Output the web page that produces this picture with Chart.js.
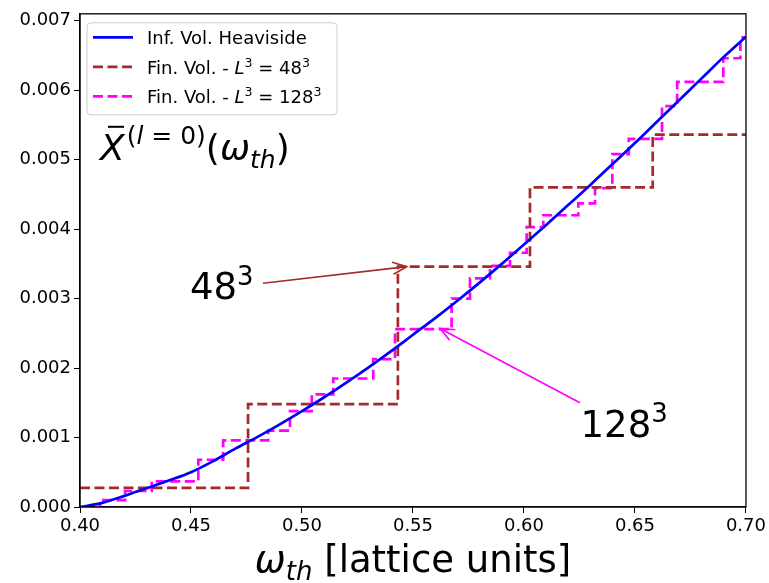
<!DOCTYPE html>
<html>
<head>
<meta charset="utf-8">
<script src="https://cdn.jsdelivr.net/npm/chart.js@4.4.1/dist/chart.umd.min.js"></script>
<style>
html, body { margin: 0; padding: 0; background: #fff; }
canvas { display: block; }
</style>
</head>
<body>
<canvas id="chart" width="769" height="583"></canvas>
<script>
// infinite volume (Heaviside) curve
var omegaInf = [0.40, 0.41, 0.42, 0.43, 0.44, 0.45, 0.46, 0.47, 0.48, 0.49,
                0.50, 0.51, 0.52, 0.53, 0.54, 0.55, 0.56, 0.57, 0.58, 0.59,
                0.60, 0.61, 0.62, 0.63, 0.64, 0.65, 0.66, 0.67, 0.68, 0.69, 0.70];
var xbarInf = [0.00000, 0.00006, 0.00016, 0.00027, 0.00038, 0.00050, 0.00066, 0.00084, 0.00101, 0.00119,
               0.00138, 0.00158, 0.00179, 0.00201, 0.00224, 0.00248, 0.00272, 0.00297, 0.00323, 0.00350,
               0.00378, 0.00406, 0.00435, 0.00464, 0.00494, 0.00524, 0.00555, 0.00586, 0.00617, 0.00648, 0.00677];

// finite volume, L^3 = 48^3 (value holds until the next omega)
var omega48 = [0.400, 0.4757, 0.5432, 0.6027, 0.6580, 0.700];
var xbar48  = [0.000275, 0.00148, 0.00346, 0.00460, 0.00536, 0.00536];

// finite volume, L^3 = 128^3
var omega128 = [0.400, 0.4090, 0.4203, 0.4323, 0.4533, 0.4645, 0.4848, 0.4946, 0.5044, 0.5141,
                0.5321, 0.5419, 0.5674, 0.5757, 0.5847, 0.5937, 0.6012, 0.6087, 0.6245, 0.6320,
                0.6398, 0.6472, 0.6622, 0.6690, 0.6898, 0.6975, 0.700];
var xbar128  = [0.00000, 0.00010, 0.00023, 0.00037, 0.00068, 0.00096, 0.00110, 0.00138, 0.00162, 0.00185,
                0.00213, 0.00256, 0.00300, 0.00329, 0.00347, 0.00366, 0.00403, 0.00420, 0.00437, 0.00459,
                0.00508, 0.00530, 0.00577, 0.00612, 0.00646, 0.00676, 0.00676];

var xTicks = [0.40, 0.45, 0.50, 0.55, 0.60, 0.65, 0.70];
var yTicks = [0.000, 0.001, 0.002, 0.003, 0.004, 0.005, 0.006, 0.007];

var FONT = '"DejaVu Sans", sans-serif';
var BROWN = '#a52a2a';
var MAGENTA = '#ff00ff';

function pts(xs, ys) {
	return xs.map(function(x, i) { return {x: x, y: ys[i]}; });
}

// draws a run of text pieces (for super/subscripts), returns the end x
function richText(ctx, x, y, parts, measureOnly) {
	var cx = x;
	ctx.save();
	ctx.fillStyle = '#000';
	ctx.textAlign = 'left';
	ctx.textBaseline = 'alphabetic';
	parts.forEach(function(p) {
		ctx.font = (p.italic ? 'italic ' : '') + p.size + 'px ' + FONT;
		if (!measureOnly) ctx.fillText(p.t, cx, y - (p.rise || 0));
		cx += ctx.measureText(p.t).width;
	});
	ctx.restore();
	return cx;
}

function arrow(ctx, x0, y0, x1, y1, color) {
	var a = Math.atan2(y1 - y0, x1 - x0);
	var hl = 14, hw = 6;
	ctx.save();
	ctx.strokeStyle = color;
	ctx.lineWidth = 1.6;
	ctx.beginPath();
	ctx.moveTo(x0, y0);
	ctx.lineTo(x1, y1);
	ctx.moveTo(x1 - hl * Math.cos(a) + hw * Math.sin(a), y1 - hl * Math.sin(a) - hw * Math.cos(a));
	ctx.lineTo(x1, y1);
	ctx.lineTo(x1 - hl * Math.cos(a) - hw * Math.sin(a), y1 - hl * Math.sin(a) + hw * Math.cos(a));
	ctx.stroke();
	ctx.restore();
}

function sup(base, size) {
	return [{t: base, size: size}, {t: '3', size: size * 0.7, rise: size * 0.4}];
}

// text labels with arrows, anchored in data units
var notes = [
	{parts: sup('48', 37), at: [0.4495, 0.00299], from: [0.4824, 0.00322], to: [0.5472, 0.00346], color: BROWN},
	{parts: sup('128', 37), at: [0.6255, 0.00101], from: [0.6252, 0.00150], to: [0.5622, 0.00257], color: MAGENTA}
];

var legendItems = [
	{color: '#0000ff', dash: [], parts: [{t: 'Inf. Vol. Heaviside', size: 18}]},
	{color: BROWN, dash: [10, 4.5], parts: [{t: 'Fin. Vol. - ', size: 18}, {t: 'L', size: 18, italic: true},
		{t: '3', size: 12.6, rise: 7}, {t: ' = 48', size: 18}, {t: '3', size: 12.6, rise: 7}]},
	{color: MAGENTA, dash: [10, 4.5], parts: [{t: 'Fin. Vol. - ', size: 18}, {t: 'L', size: 18, italic: true},
		{t: '3', size: 12.6, rise: 7}, {t: ' = 128', size: 18}, {t: '3', size: 12.6, rise: 7}]}
];

var decorations = {
	id: 'decorations',
	afterDraw: function(chart) {
		var ctx = chart.ctx, area = chart.chartArea;
		var xs = chart.scales.x, ys = chart.scales.y;

		// frame
		ctx.save();
		ctx.strokeStyle = '#000';
		ctx.lineWidth = 1.3;
		ctx.strokeRect(area.left, area.top, area.right - area.left, area.bottom - area.top);
		ctx.restore();

		// legend box
		var lx = area.left + 7, ly = area.top + 9, lw = 250, lh = 92;
		ctx.save();
		ctx.fillStyle = 'rgba(255,255,255,0.8)';
		ctx.strokeStyle = '#cccccc';
		ctx.lineWidth = 1;
		ctx.beginPath();
		ctx.roundRect(lx, ly, lw, lh, 4);
		ctx.fill();
		ctx.stroke();
		legendItems.forEach(function(item, i) {
			var yy = ly + 14.5 + i * 29.5;
			ctx.strokeStyle = item.color;
			ctx.lineWidth = 2.7;
			ctx.setLineDash(item.dash);
			ctx.beginPath();
			ctx.moveTo(lx + 6, yy);
			ctx.lineTo(lx + 46, yy);
			ctx.stroke();
			ctx.setLineDash([]);
			richText(ctx, lx + 60, yy + 7, item.parts);
		});
		ctx.restore();

		// X-bar label
		var bx = area.left + 20, by = area.top + 146;
		var xEnd = richText(ctx, bx, by, [{t: 'X', size: 36, italic: true}]);
		ctx.save();
		ctx.strokeStyle = '#000';
		ctx.lineWidth = 2;
		ctx.beginPath();
		ctx.moveTo(bx + 8, by - 33);
		ctx.lineTo(bx + 24, by - 33);
		ctx.stroke();
		ctx.restore();
		richText(ctx, xEnd + 2, by, [
			{t: '(', size: 25, rise: 16}, {t: 'l', size: 25, italic: true, rise: 16}, {t: ' = 0)', size: 25, rise: 16},
			{t: '(', size: 36}, {t: 'ω', size: 36, italic: true}, {t: 'th', size: 25, italic: true, rise: -8},
			{t: ')', size: 36}
		]);

		// annotations
		notes.forEach(function(n) {
			arrow(ctx, xs.getPixelForValue(n.from[0]), ys.getPixelForValue(n.from[1]),
				xs.getPixelForValue(n.to[0]), ys.getPixelForValue(n.to[1]), n.color);
			richText(ctx, xs.getPixelForValue(n.at[0]), ys.getPixelForValue(n.at[1]), n.parts);
		});

		// x axis title
		var title = [{t: 'ω', size: 37, italic: true}, {t: 'th', size: 26, italic: true, rise: -8},
			{t: ' [lattice units]', size: 37}];
		var w = richText(ctx, 0, 0, title, true);
		richText(ctx, (area.left + area.right) / 2 - w / 2, 572, title);
	}
};

new Chart('chart', {
	type: 'line',
	data: {
		datasets: [
		{
			label: 'Inf. Vol. Heaviside',
			data: pts(omegaInf, xbarInf),
			borderColor: '#0000ff',
			borderWidth: 2.7,
			pointRadius: 0,
			cubicInterpolationMode: 'monotone',
			fill: false
		},
		{
			label: 'Fin. Vol. - L^3 = 48^3',
			data: pts(omega48, xbar48),
			borderColor: BROWN,
			borderWidth: 2.7,
			borderDash: [10, 4.5],
			stepped: 'before',
			pointRadius: 0,
			fill: false
		},
		{
			label: 'Fin. Vol. - L^3 = 128^3',
			data: pts(omega128, xbar128),
			borderColor: MAGENTA,
			borderWidth: 2.7,
			borderDash: [10, 4.5],
			stepped: 'before',
			pointRadius: 0,
			fill: false
		}]
	},
	options: {
		responsive: false,
		animation: false,
		devicePixelRatio: 1,
		layout: {padding: {top: 9, right: 23, left: 0, bottom: 0}},
		plugins: {legend: {display: false}, tooltip: {enabled: false}},
		scales: {
			x: {
				type: 'linear',
				min: 0.40,
				max: 0.70,
				afterBuildTicks: function(s) { s.ticks = xTicks.map(function(v) { return {value: v}; }); },
				afterFit: function(s) { s.height = 76; },
				grid: {drawOnChartArea: false, color: '#000', tickColor: '#000', tickLength: 6},
				border: {color: '#000', width: 1.3},
				ticks: {
					color: '#000',
					font: {family: FONT, size: 18},
					padding: 3,
					maxRotation: 0,
					callback: function(v) { return v.toFixed(2); }
				}
			},
			y: {
				min: 0,
				max: 0.0071,
				afterBuildTicks: function(s) { s.ticks = yTicks.map(function(v) { return {value: v}; }); },
				afterFit: function(s) { s.width = 80; },
				grid: {drawOnChartArea: false, color: '#000', tickColor: '#000', tickLength: 6},
				border: {color: '#000', width: 1.3},
				ticks: {
					color: '#000',
					font: {family: FONT, size: 18},
					padding: 3,
					callback: function(v) { return v.toFixed(3); }
				}
			}
		}
	},
	plugins: [decorations]
});
</script>
</body>
</html>
